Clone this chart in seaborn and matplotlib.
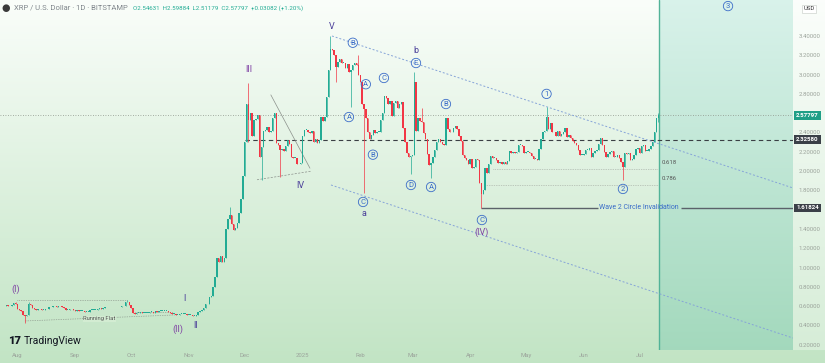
"""XRP/USD 1D (Bitstamp) - Elliott wave count chart, TradingView look"""

import numpy as np
import pandas as pd
import matplotlib
matplotlib.use("Agg")
import matplotlib.pyplot as plt
import matplotlib.dates as mdates
import seaborn as sns

sns.set_theme(style="white")
plt.rcParams["font.family"] = ["Roboto", "DejaVu Sans"]

# daily closes, 2024-07-24 .. 2025-07-11
close_jul24 = [0.60, 0.60, 0.61, 0.60, 0.60, 0.61, 0.63, 0.62]
close_aug24 = [0.57, 0.56, 0.55, 0.51, 0.50, 0.51, 0.62, 0.61, 0.58, 0.57,
               0.56, 0.57, 0.57, 0.56, 0.56, 0.57, 0.57, 0.59, 0.59, 0.60,
               0.60, 0.59, 0.60, 0.60, 0.59, 0.58, 0.56, 0.56, 0.57, 0.57, 0.56]
close_sep24 = [0.55, 0.56, 0.55, 0.55, 0.55, 0.54, 0.54, 0.54, 0.56, 0.56,
               0.56, 0.56, 0.57, 0.58, 0.57, 0.58, 0.59, 0.59, 0.59, 0.59,
               0.59, 0.59, 0.59, 0.59, 0.59, 0.60, 0.60, 0.64, 0.64, 0.61]
close_oct24 = [0.58, 0.53, 0.52, 0.53, 0.53, 0.54, 0.53, 0.53, 0.53, 0.53,
               0.54, 0.54, 0.53, 0.55, 0.54, 0.55, 0.55, 0.55, 0.55, 0.55,
               0.54, 0.53, 0.52, 0.52, 0.51, 0.51, 0.52, 0.52, 0.52, 0.52, 0.51]
close_nov24 = [0.51, 0.51, 0.50, 0.50, 0.51, 0.54, 0.55, 0.56, 0.58, 0.62,
               0.62, 0.70, 0.71, 0.80, 0.90, 1.10, 1.06, 1.12, 1.06, 1.10,
               1.40, 1.50, 1.55, 1.45, 1.39, 1.41, 1.46, 1.57, 1.71, 1.95]
close_dec24 = [2.30, 2.70, 2.53, 2.60, 2.36, 2.53, 2.54, 2.58, 2.15, 2.25,
               2.42, 2.43, 2.46, 2.40, 2.42, 2.55, 2.60, 2.29, 2.27, 2.22,
               2.23, 2.21, 2.26, 2.32, 2.28, 2.15, 2.14, 2.14, 2.07, 2.07, 2.08]
close_jan25 = [2.36, 2.43, 2.43, 2.41, 2.39, 2.42, 2.30, 2.33, 2.29, 2.32,
               2.56, 2.52, 2.56, 2.77, 3.05, 3.27, 3.25, 3.20, 3.08, 3.13,
               3.16, 3.12, 3.12, 3.07, 3.11, 3.03, 3.05, 3.10, 3.12, 3.10, 3.00]
close_feb25 = [2.92, 2.70, 2.64, 2.55, 2.40, 2.33, 2.37, 2.43, 2.39, 2.41,
               2.41, 2.53, 2.60, 2.78, 2.76, 2.70, 2.73, 2.57, 2.71, 2.73,
               2.65, 2.70, 2.72, 2.45, 2.30, 2.19, 2.15, 2.16]
close_mar25 = [2.17, 2.92, 2.42, 2.55, 2.52, 2.51, 2.39, 2.33, 2.18, 2.06,
               2.08, 2.15, 2.22, 2.30, 2.33, 2.30, 2.28, 2.27, 2.55, 2.44,
               2.40, 2.40, 2.45, 2.47, 2.44, 2.36, 2.31, 2.17, 2.14, 2.12, 2.07]
close_apr25 = [2.13, 2.03, 2.04, 2.13, 2.11, 1.88, 1.76, 1.80, 2.03, 1.98,
               2.07, 2.16, 2.14, 2.14, 2.12, 2.08, 2.09, 2.07, 2.09, 2.07,
               2.10, 2.21, 2.19, 2.20, 2.19, 2.20, 2.27, 2.27, 2.26, 2.19]
close_may25 = [2.20, 2.20, 2.19, 2.16, 2.13, 2.13, 2.12, 2.23, 2.33, 2.40,
               2.42, 2.56, 2.44, 2.50, 2.40, 2.41, 2.36, 2.42, 2.36, 2.38,
               2.40, 2.45, 2.35, 2.37, 2.34, 2.31, 2.29, 2.27, 2.22, 2.17, 2.17]
close_jun25 = [2.18, 2.22, 2.22, 2.24, 2.15, 2.19, 2.21, 2.22, 2.28, 2.34,
               2.27, 2.20, 2.15, 2.18, 2.20, 2.21, 2.15, 2.15, 2.17, 2.14,
               2.09, 2.04, 2.19, 2.18, 2.19, 2.12, 2.13, 2.17, 2.23, 2.24]
close_jul25 = [2.19, 2.26, 2.27, 2.21, 2.21, 2.23, 2.26, 2.30, 2.40, 2.54631, 2.57797]
first_open = 0.60

# notable wicks: date -> (high, low)
wicks = {
    "2024-07-31": (0.64, None), "2024-08-05": (None, 0.43), "2024-08-07": (0.64, None),
    "2024-09-29": (0.66, None), "2024-11-23": (1.63, None),
    "2024-12-03": (2.91, 2.30), "2024-12-10": (None, 1.91), "2024-12-20": (None, 1.94),
    "2025-01-16": (3.40, None), "2025-01-19": (None, 2.92), "2025-01-27": (None, 2.66),
    "2025-01-31": (3.20, None), "2025-02-03": (None, 1.77), "2025-02-28": (None, 1.97),
    "2025-03-02": (3.03, None), "2025-03-06": (2.65, None), "2025-03-11": (None, 1.93),
    "2025-04-07": (None, 1.618), "2025-05-12": (2.66, None), "2025-06-22": (None, 1.91),
    "2025-07-11": (2.59884, 2.51179),
}

# scale labels (2.6, 1.6 and 3.6 sit under the tags / USD box)
price_ticks = [0.2, 0.4, 0.6, 0.8, 1.0, 1.2, 1.4, 1.8, 2.0, 2.2, 2.4,
               2.8, 3.0, 3.2, 3.4]
month_ticks = ["2024-08-01", "2024-09-01", "2024-10-01", "2024-11-01", "2024-12-01",
               "2025-01-01", "2025-02-01", "2025-03-01", "2025-04-01", "2025-05-01",
               "2025-06-01", "2025-07-01"]
month_labels = ["Aug", "Sep", "Oct", "Nov", "Dec", "2025", "Feb", "Mar", "Apr",
                "May", "Jun", "Jul"]

last_price = 2.57797
level_dash = 2.32580
level_invalid = 1.61824
fib_levels = [("0.618", 2.022, "2025-04-13"), ("0.786", 1.856, "2025-04-09")]

# wave labels: text, date, price, kind
wave_labels = [
    ("(I)", "2024-07-31", 0.78, "p"), ("I", "2024-10-29 10:00", 0.675, "d"),
    ("(II)", "2024-10-26", 0.364, "p"), ("II", "2024-11-04 19:00", 0.405, "d"),
    ("III", "2024-12-03", 3.05, "p"), ("IV", "2024-12-31", 1.85, "d"),
    ("V", "2025-01-16 20:00", 3.50, "d"), ("a", "2025-02-03", 1.565, "d"),
    ("b", "2025-03-02 22:00", 3.245, "d"), ("(IV)", "2025-04-07 07:00", 1.37, "p"),
]
circle_labels = [
    ("B", "2025-01-28", 3.33), ("A", "2025-01-25 22:00", 2.56), ("A", "2025-02-04", 2.90),
    ("C", "2025-02-13 17:00", 2.965), ("B", "2025-02-07 19:00", 2.17),
    ("C", "2025-02-02 12:00", 1.68), ("E", "2025-03-02 22:00", 3.12),
    ("D", "2025-02-28 05:00", 1.856), ("A", "2025-03-11", 1.835),
    ("B", "2025-03-19", 2.695), ("C", "2025-04-07 07:00", 1.493),
    ("1", "2025-05-12", 2.80), ("2", "2025-06-22", 1.815), ("3", "2025-08-17 10:00", 3.71),
]

closes = (close_jul24 + close_aug24 + close_sep24 + close_oct24 + close_nov24 + close_dec24
          + close_jan25 + close_feb25 + close_mar25 + close_apr25 + close_may25
          + close_jun25 + close_jul25)
dates = pd.date_range("2024-07-24", periods=len(closes), freq="D")
df = pd.DataFrame({"date": dates, "close": closes})
df["open"] = [first_open] + closes[:-1]
df["high"] = df[["open", "close"]].max(axis=1)
df["low"] = df[["open", "close"]].min(axis=1)
for day, (hi, lo) in wicks.items():
    i = df.index[df["date"] == pd.Timestamp(day)][0]
    if hi is not None:
        df.loc[i, "high"] = hi
    if lo is not None:
        df.loc[i, "low"] = lo


def dn(s):
    return mdates.date2num(pd.Timestamp(s))


X_LEFT, X_RIGHT = dn("2024-07-22 15:00"), dn("2025-09-21 07:00")
Y_BOT, Y_TOP = 0.146, 3.773
FUTURE = dn("2025-07-11 14:00")

UP, DOWN = "#22ab94", "#f23645"
BLUE = "#3a6cc8"
PURPLE = "#7e3fa3"
INDIGO = "#4b3f9a"

fig = plt.figure(figsize=(8.25, 3.63), dpi=100)

# page background gradient (white top -> soft green bottom)
bg = fig.add_axes([0, 0, 1, 1], zorder=0)
top_c = np.array([0.98, 0.995, 0.98])
bot_c = np.array([0.76, 0.895, 0.77])
t = np.linspace(0, 1, 256)[:, None, None]
grad = np.repeat(top_c * (1 - t) + bot_c * t, 2, axis=1)
bg.imshow(grad, aspect="auto", extent=[0, 1, 0, 1])
bg.axis("off")

# price scale panel
pan = fig.add_axes([793 / 825, 13 / 363, 32 / 825, 350 / 363], zorder=1)
ptop = np.array([0.985, 0.995, 0.985])
pbot = np.array([0.84, 0.93, 0.845])
pg = np.repeat(ptop * (1 - t) + pbot * t, 2, axis=1)
pan.imshow(pg, aspect="auto", extent=[0, 1, 0, 1])
pan.axis("off")

ax = fig.add_axes([0, 13 / 363, 793 / 825, 350 / 363], zorder=2)
ax.patch.set_alpha(0)

# future zone
ftop = np.array([0.85, 0.95, 0.92])
fbot = np.array([0.64, 0.85, 0.74])
fg = np.repeat(ftop * (1 - t) + fbot * t, 2, axis=1)
ax.imshow(fg, aspect="auto", extent=[FUTURE, X_RIGHT, Y_BOT, Y_TOP], zorder=1)
ax.axvline(FUTURE, color="#52b398", lw=1.0, zorder=2)

# reference levels
ax.axhline(last_price, color="#8c948c", lw=0.6, ls=(0, (1, 2)), zorder=2)
ax.hlines(level_dash, dn("2024-12-01"), X_RIGHT, color="#3a3f44", lw=0.8,
          ls=(0, (4, 3)), zorder=2)
ax.hlines(level_invalid, dn("2025-04-07"), dn("2025-06-08 12:00"), color="#5b626a", lw=1.0, zorder=2)
ax.hlines(level_invalid, dn("2025-07-23"), X_RIGHT, color="#5b626a", lw=1.0, zorder=2)
ax.text(dn("2025-06-30 14:00"), level_invalid, "Wave 2 Circle Invalidation", color=BLUE,
        fontsize=5, ha="center", va="center", zorder=5)
for name, lvl, start in fib_levels:
    ax.hlines(lvl, dn(start), dn("2025-07-11"), color="#9aa09a", lw=0.5, ls=(0, (1, 1.5)), zorder=2)
    ax.text(dn("2025-07-13"), lvl + 0.04, name, color="#555", fontsize=4.3, va="bottom", zorder=5)

# channel
ax.plot([dn("2025-01-16 20:00"), X_RIGHT], [3.40, 1.825], color="#86a4d8", lw=0.7,
        ls=(0, (2, 2)), zorder=2)
ax.plot([dn("2025-01-16 07:00"), X_RIGHT], [1.856, 0.27], color="#86a4d8", lw=0.7,
        ls=(0, (2, 2)), zorder=2)

# running flat and triangle drawings
ax.plot([dn("2024-07-31 12:00"), dn("2024-09-29")], [0.665, 0.665], color="#7d847d", lw=0.5,
        ls=(0, (1, 1.5)), zorder=2)
ax.plot([dn("2024-08-05"), dn("2024-10-25 14:00")], [0.447, 0.51], color="#7d847d", lw=0.5,
        ls=(0, (1, 1.5)), zorder=2)
ax.plot([dn("2024-10-03"), dn("2024-10-23 12:00")], [0.54, 0.54], color="#7d847d", lw=0.5,
        ls=(0, (1, 1.5)), zorder=2)
ax.text(dn("2024-09-14"), 0.469, "Running Flat", fontsize=4.2, color="#555", ha="center",
        va="center", zorder=5,
        bbox=dict(boxstyle="square,pad=0.1", fc="#d3ecd2", ec="none"))
ax.plot([dn("2024-12-15"), dn("2025-01-05")], [2.79, 2.03], color="#8a8f8a", lw=0.5, zorder=2)
ax.plot([dn("2024-12-07 14:00"), dn("2025-01-06")], [1.91, 2.00], color="#8a8f8a", lw=0.5,
        ls=(0, (3, 2)), zorder=2)

# candles
x = mdates.date2num(df["date"])
cols = np.where(df["close"] >= df["open"], UP, DOWN)
ax.vlines(x, df["low"], df["high"], color=cols, lw=0.5, zorder=3)
body = (df["close"] - df["open"]).abs().clip(lower=0.006)
ax.bar(x, body, bottom=df[["open", "close"]].min(axis=1), width=0.75, color=cols,
       linewidth=0, zorder=4)

# wave labels
for txt, d, p, kind in wave_labels:
    ax.text(dn(d), p, txt, color=PURPLE if kind == "p" else INDIGO, fontsize=6.5,
            ha="center", va="center", zorder=6)
for txt, d, p in circle_labels:
    ax.text(dn(d), p, txt, color=BLUE, fontsize=5.5, ha="center", va="center", zorder=6,
            bbox=dict(boxstyle="circle,pad=0.22", fc="none", ec=BLUE, lw=0.6))

ax.set_xlim(X_LEFT, X_RIGHT)
ax.set_ylim(Y_BOT, Y_TOP)
for s in ax.spines.values():
    s.set_visible(False)
ax.yaxis.tick_right()
ax.set_yticks(price_ticks)
ax.set_yticklabels([f"{v:.5f}" for v in price_ticks])
ax.set_xticks([dn(m) for m in month_ticks])
ax.set_xticklabels(month_labels)
ax.tick_params(axis="y", length=0, pad=4, labelsize=4.3, labelcolor="#9ba39b")
ax.tick_params(axis="x", length=0, pad=2.5, labelsize=4.3, labelcolor="#9ba39b")
ax.grid(False)

# price scale tags
tag_kw = dict(xycoords=("axes fraction", "data"), fontsize=4.4, fontweight="bold",
              color="white", va="center", ha="left", annotation_clip=False, zorder=10)
ax.annotate(f"{last_price:.5f}", (1.004, last_price),
            bbox=dict(boxstyle="square,pad=0.3", fc="#1f9f87", ec="none"), **tag_kw)
ax.annotate(f"{level_dash:.5f}", (1.004, level_dash),
            bbox=dict(boxstyle="square,pad=0.3", fc="#3b4048", ec="none"), **tag_kw)
ax.annotate(f"{level_invalid:.5f}", (1.004, level_invalid),
            bbox=dict(boxstyle="square,pad=0.3", fc="#3b4048", ec="none"), **tag_kw)

# header + branding
fig.text(6 / 825, 1 - 8 / 363, "●", fontsize=7, color="#3a3a3a", ha="center", va="center",
         zorder=10)
fig.text(14 / 825, 1 - 8 / 363, "XRP / U.S. Dollar · 1D · BITSTAMP", fontsize=5.5,
         color="#80868c", va="center", zorder=10)
fig.text(133 / 825, 1 - 8 / 363,
         "O2.54631  H2.59884  L2.51179  C2.57797  +0.03082 (+1.20%)", fontsize=4.4,
         color=UP, va="center", zorder=10)
fig.text(809 / 825, 1 - 9 / 363, "USD", fontsize=4.3, color="#333", ha="center", va="center",
         zorder=10, bbox=dict(boxstyle="square,pad=0.3", fc="white", ec="#cfd4cf", lw=0.5))
fig.text(8 / 825, 1 - 341 / 363, "17", fontsize=8, fontweight="black", color="#131722",
         va="center", zorder=10)
fig.text(24 / 825, 1 - 341 / 363, "TradingView", fontsize=7.5, color="#131722",
         va="center", zorder=10)

fig.savefig("out.png", dpi=100)
